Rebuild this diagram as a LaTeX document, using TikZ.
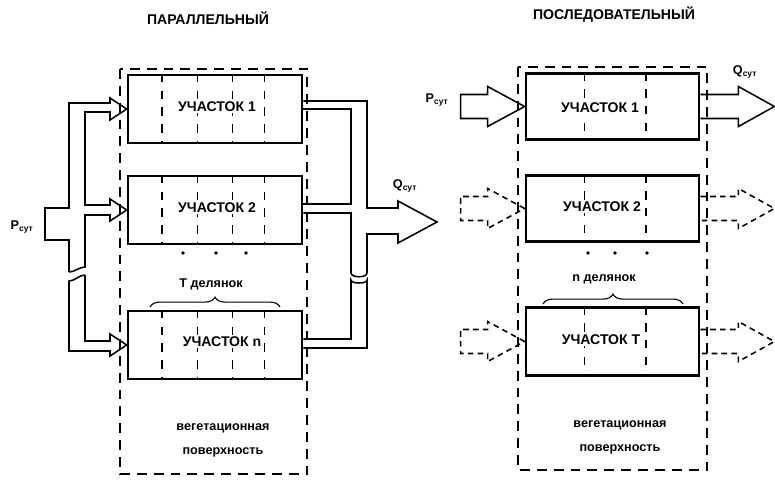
\documentclass[tikz,border=0pt]{standalone}
\usepackage{fontspec}
\setmainfont{Liberation Sans}
\usetikzlibrary{calc,decorations.pathreplacing}

\begin{document}
\begin{tikzpicture}[x=0.025cm, y=-0.025cm,
  box/.style={rectangle, draw, line width=1.8pt, minimum width=4.35cm, minimum height=1.7cm, inner sep=0pt},
  tag/.style={fill=white, inner sep=1pt, font=\fontsize{10}{12}\selectfont\bfseries},
  fence/.style={line width=1.1pt, dash pattern=on 7pt off 5pt},
  divider/.style={line width=0.9pt, dash pattern=on 6pt off 6pt},
  pipe/.style={line width=1.1pt, line join=miter},
  ghost/.style={pipe, dash pattern=on 4pt off 3pt},
  label/.style={font=\fontsize{9}{11}\selectfont\bfseries},
  title/.style={font=\fontsize{10}{12}\selectfont\bfseries},
  brace/.style={decorate, decoration={brace, amplitude=7pt}, line width=0.8pt}
]
  \useasboundingbox (0,0) rectangle (775,480);

  % Parallel scheme
  \node[title] (parTitle) at (208,18) {ПАРАЛЛЕЛЬНЫЙ};
  \draw[fence] (120,69) rectangle (307,474);

  \node[box] (par1) at (215,109) {};
  \node[box] (par2) at (215,210) {};
  \node[box] (parn) at (215,345) {};
  \foreach \n in {par1,par2,parn}
    \foreach \f in {0.2,0.4,0.6,0.78}
      \draw[divider] ($(\n.north west)!\f!(\n.north east)$) -- ($(\n.south west)!\f!(\n.south east)$);
  \node[tag] (par1txt) at (217,107) {УЧАСТОК 1};
  \node[tag] (par2txt) at (217,208) {УЧАСТОК 2};
  \node[tag] (parntxt) at (222,342) {УЧАСТОК n};

  \foreach \x in {183,216,246}
    \fill (\x,253) circle (1.4pt);
  \node[label] (parCount) at (211,284) {Т делянок};
  \draw[brace] (150,307) -- (280,307);

  \node[label] (parSurf1) at (223,428) {вегетационная};
  \node[label] (parSurf2) at (223,452) {поверхность};

  % input manifold
  \node[label] (parIn) at (22,227) {P\textsubscript{сут}};
  \draw[pipe] (69,272) -- (69,240) -- (45,240) -- (45,208) -- (69,208) -- (69,103) -- (110,103) -- (110,98)
    -- (par1.west) -- (110,120) -- (110,112) -- (85,112) -- (85,205) -- (110,205) -- (110,199)
    -- (par2.west) -- (110,221) -- (110,215) -- (85,215) -- (85,267)
    .. controls (79,267) and (75,272) .. (69,272);
  \draw[pipe] (85,275) -- (85,341) -- (110,341) -- (110,334) -- (parn.west) -- (110,356) -- (110,351)
    -- (69,351) -- (69,281) .. controls (75,281) and (79,275) .. (85,275);

  % output manifold
  \node[label] (parOut) at (405,186) {Q\textsubscript{сут}};
  \draw[pipe] (par1.east |- 0,101) -- (367,101) -- (367,208) -- (398,208) -- (398,201) -- (437,222)
    -- (398,243) -- (398,234) -- (367,234) -- (367,273) .. controls (367,278) and (351,278) .. (351,273)
    -- (351,213) -- (par2.east |- 0,213);
  \draw[pipe] (par1.east |- 0,109) -- (351,109) -- (351,204) -- (par2.east |- 0,204);
  \draw[pipe] (parn.east |- 0,339) -- (351,339) -- (351,280) .. controls (351,284) and (367,284) .. (367,280)
    -- (367,348) -- (parn.east |- 0,348);

  % Sequential scheme
  \node[title] (seqTitle) at (614,15) {ПОСЛЕДОВАТЕЛЬНЫЙ};
  \draw[fence] (518,67) rectangle (707,470);

  \node[box, minimum width=4.33cm, minimum height=1.65cm] (seq1) at (612.5,106.5) {};
  \node[box, minimum width=4.33cm, minimum height=1.65cm] (seq2) at (612.5,208.5) {};
  \node[box, minimum width=4.33cm, minimum height=1.7cm] (seqT) at (612.5,341.5) {};
  \foreach \n in {seq1,seq2,seqT}
    \foreach \f in {0.34,0.69}
      \draw[divider] ($(\n.north west)!\f!(\n.north east)$) -- ($(\n.south west)!\f!(\n.south east)$);
  \node[tag] (seq1txt) at (600,108) {УЧАСТОК 1};
  \node[tag] (seq2txt) at (602,207) {УЧАСТОК 2};
  \node[tag] (seqTtxt) at (601,340) {УЧАСТОК Т};

  \foreach \x in {588,615,647}
    \fill (\x,253) circle (1.4pt);
  \node[label] (seqCount) at (604,279) {n делянок};
  \draw[brace] (543,304) -- (683,304);

  \node[label] (seqSurf1) at (620,425) {вегетационная};
  \node[label] (seqSurf2) at (620,449) {поверхность};

  % daily flows
  \node[label] (seqIn) at (437,100) {P\textsubscript{сут}};
  \node[label] (seqOut) at (745,72) {Q\textsubscript{сут}};
  \foreach \n/\s in {seq1/pipe, seq2/ghost, seqT/ghost} {
    \draw[\s] (\n.west) -- ++(-37,-20) -- ++(0,8) -- ++(-27,0) -- ++(0,24) -- ++(27,0) -- ++(0,8) -- cycle;
    \draw[\s] ($(\n.east)+(0,-12)$) -- ++(38,0) -- ++(0,-8) -- ++(36,20) -- ++(-36,20) -- ++(0,-8) -- ++(-38,0);
  }
\end{tikzpicture}
\end{document}
